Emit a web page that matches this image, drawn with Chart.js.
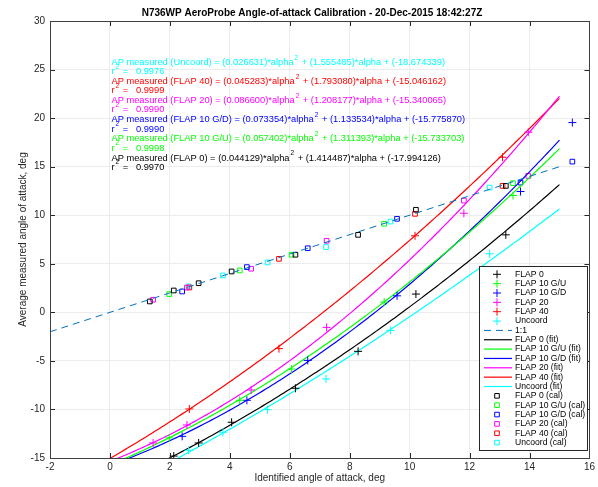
<!DOCTYPE html>
<html>
<head>
<meta charset="utf-8">
<script src="https://cdn.jsdelivr.net/npm/chart.js@4/dist/chart.umd.min.js"></script>
<style>
body { margin: 0; background: #fff; }
#marco { width: 598px; height: 487px; }
</style>
</head>
<body>
<div id="marco"><canvas id="graficaCal"></canvas></div>
<script>
// Configuraciones de flaps
const configuraciones = ['FLAP 0', 'FLAP 10 G/U', 'FLAP 10 G/D', 'FLAP 20', 'FLAP 40', 'Uncoord'];
const colores = ['#000000', '#00ff00', '#0000ff', '#ff00ff', '#ff0000', '#00ffff'];

// Alfa identificado, alfa medido por la sonda y alfa calibrado (deg)
const alfaF0 = [1.33, 2.13, 2.96, 4.06, 6.19, 8.28, 10.21, 13.21];
const medidoF0 = [-16.0, -14.8, -13.45, -11.32, -7.82, -4.02, 1.88, 7.98];
const calF0 = [1.12, 2.25, 3.0, 4.21, 5.93, 7.98, 10.56, 13.02];

const alfaGU = [1.98, 4.33, 6.06, 9.15, 13.45];
const medidoGU = [-12.93, -9.06, -5.84, 1.06, 12.03];
const calGU = [1.88, 4.31, 5.93, 9.12, 13.3];

const alfaGD = [2.41, 4.57, 6.6, 9.58, 13.7, 15.43];
const medidoGD = [-12.77, -9.06, -4.95, 1.7, 12.44, 19.54];
const calGD = [2.15, 4.66, 6.6, 9.63, 13.36, 15.52];

const alfaF20 = [1.44, 2.57, 4.71, 7.23, 11.81, 13.96];
const medidoF20 = [-13.45, -11.6, -8.0, -1.55, 10.2, 18.55];
const calF20 = [1.3, 2.55, 4.49, 7.37, 11.51, 14.05];

const alfaF40 = [2.65, 5.64, 10.18, 13.10];
const medidoF40 = [-9.95, -3.74, 7.88, 15.97];
const calF40 = [2.56, 5.51, 10.14, 13.02];

const alfaUnc = [2.62, 3.77, 5.26, 7.21, 9.36, 12.67];
const medidoUnc = [-14.2, -12.35, -10.02, -6.86, -1.86, 6.03];
const calUnc = [2.67, 3.8, 5.14, 6.72, 9.35, 12.85];

// Coeficientes del ajuste cuadratico y r^2
const coefA = [0.044129, 0.057402, 0.073354, 0.086600, 0.045283, 0.026631];
const coefB = [1.414487, 1.311393, 1.133534, 1.208177, 1.793080, 1.555485];
const coefC = [-17.994126, -15.733703, -15.775870, -15.340065, -15.046162, -18.674339];
const r2 = ['0.9970', '0.9998', '0.9990', '0.9990', '0.9999', '0.9976'];

// Rango del ajuste y de la linea 1:1
const rangoAjuste = [0, 15];
const rangoUno = [-2, 15];

// Ticks de los ejes
const ticksX = [-2, 0, 2, 4, 6, 8, 10, 12, 14, 16];
const ticksY = [-15, -10, -5, 0, 5, 10, 15, 20, 25, 30];

const alfas = [alfaF0, alfaGU, alfaGD, alfaF20, alfaF40, alfaUnc];
const medidos = [medidoF0, medidoGU, medidoGD, medidoF20, medidoF40, medidoUnc];
const calibrados = [calF0, calGU, calGD, calF20, calF40, calUnc];

const FUENTE = '"Liberation Sans", Arial, sans-serif';

function puntos(xs, ys) {
    return xs.map((x, i) => ({ x: x, y: ys[i] }));
}

// Curva del ajuste evaluada con los coeficientes
function curvaAjuste(k) {
    const datos = [];
    for (let x = rangoAjuste[0]; x <= rangoAjuste[1] + 1e-9; x += 0.1) {
        datos.push({ x: x, y: coefA[k] * x * x + coefB[k] * x + coefC[k] });
    }
    return datos;
}

const datasets = [];
configuraciones.forEach((nombre, k) => {
    datasets.push({
        label: nombre,
        data: puntos(alfas[k], medidos[k]),
        pointStyle: 'cross',
        pointRadius: 4,
        borderColor: colores[k],
        borderWidth: 1,
        showLine: false,
        tipo: 'cruz'
    });
});
datasets.push({
    label: '1:1',
    data: puntos(rangoUno, rangoUno),
    showLine: true,
    pointRadius: 0,
    borderColor: '#0072bd',
    borderWidth: 1,
    borderDash: [7, 5],
    tipo: 'linea'
});
configuraciones.forEach((nombre, k) => {
    datasets.push({
        label: nombre + ' (fit)',
        data: curvaAjuste(k),
        showLine: true,
        pointRadius: 0,
        borderColor: colores[k],
        borderWidth: 1.2,
        tipo: 'linea'
    });
});
configuraciones.forEach((nombre, k) => {
    datasets.push({
        label: nombre + ' (cal)',
        data: puntos(alfas[k], calibrados[k]),
        pointStyle: 'rect',
        pointRadius: 3.3,
        borderColor: colores[k],
        backgroundColor: 'rgba(0,0,0,0)',
        borderWidth: 1,
        showLine: false,
        tipo: 'cuadro'
    });
});

function dibujarMarca(ctx, tipo, ds, x, y) {
    ctx.save();
    ctx.strokeStyle = ds.borderColor;
    ctx.lineWidth = ds.borderWidth;
    ctx.beginPath();
    if (tipo === 'cruz') {
        ctx.moveTo(x - 4, y); ctx.lineTo(x + 4, y);
        ctx.moveTo(x, y - 4); ctx.lineTo(x, y + 4);
    } else if (tipo === 'cuadro') {
        ctx.rect(x - 2.3, y - 2.3, 4.6, 4.6);
    } else {
        ctx.setLineDash(ds.borderDash || []);
        ctx.moveTo(x - 13, y); ctx.lineTo(x + 15, y);
    }
    ctx.stroke();
    ctx.restore();
}

// Texto con un exponente "2" pequeño; devuelve la x final
function textoExp(ctx, partes, x, y, tam) {
    partes.forEach((p, i) => {
        ctx.font = tam + 'px ' + FUENTE;
        ctx.fillText(p, x, y);
        x += ctx.measureText(p).width;
        if (i < partes.length - 1) {
            ctx.font = (tam * 0.7) + 'px ' + FUENTE;
            ctx.fillText('2', x + 1, y - 4.5);
            x += ctx.measureText('2').width + 2;
        }
    });
    return x;
}

const extras = {
    id: 'extras',
    afterDatasetsDraw(chart) {
        const ctx = chart.ctx;
        const sx = chart.scales.x;
        const area = chart.chartArea;
        // Ecuaciones de los ajustes
        const orden = [5, 4, 3, 2, 1, 0];
        ctx.save();
        ctx.textBaseline = 'middle';
        ctx.textAlign = 'left';
        const x0 = sx.getPixelForValue(0.05);
        orden.forEach((k, i) => {
            const yEc = area.top + 41.5 + i * 19.1;
            ctx.fillStyle = colores[k];
            textoExp(ctx, [
                'AP measured (' + configuraciones[k] + ') = (' + coefA[k].toFixed(6) + ')*alpha',
                ' + (' + coefB[k].toFixed(6) + ')*alpha + (' + coefC[k].toFixed(6) + ')'
            ], x0, yEc, 9.3);
            textoExp(ctx, ['r', ' =   ' + r2[k]], x0, yEc + 9.2, 9.3);
        });
        ctx.restore();
    },
    afterDraw(chart) {
        const ctx = chart.ctx;
        const a = chart.chartArea;
        const sx = chart.scales.x;
        const sy = chart.scales.y;
        ctx.save();
        // Marcas hacia dentro en los cuatro lados
        ctx.strokeStyle = '#262626';
        ctx.lineWidth = 1;
        ctx.beginPath();
        ticksX.forEach(v => {
            const px = Math.round(sx.getPixelForValue(v)) + 0.5;
            ctx.moveTo(px, a.bottom); ctx.lineTo(px, a.bottom - 5);
            ctx.moveTo(px, a.top); ctx.lineTo(px, a.top + 5);
        });
        ticksY.forEach(v => {
            const py = Math.round(sy.getPixelForValue(v)) + 0.5;
            ctx.moveTo(a.left, py); ctx.lineTo(a.left + 5, py);
            ctx.moveTo(a.right, py); ctx.lineTo(a.right - 5, py);
        });
        ctx.stroke();
        ctx.strokeStyle = '#404040';
        ctx.strokeRect(Math.round(a.left) + 0.5, Math.round(a.top) + 0.5,
            Math.round(a.right - a.left), Math.round(a.bottom - a.top));

        // Titulo
        ctx.fillStyle = '#000';
        ctx.font = 'bold 10px ' + FUENTE;
        ctx.textAlign = 'center';
        ctx.textBaseline = 'middle';
        ctx.fillText('N736WP AeroProbe Angle-of-attack Calibration - 20-Dec-2015 18:42:27Z', 312, 13);

        // Leyenda
        const izq = 479, der = 587, arriba = 266, abajo = 450;
        ctx.fillStyle = '#fff';
        ctx.fillRect(izq, arriba, der - izq, abajo - arriba);
        ctx.strokeStyle = '#262626';
        ctx.strokeRect(izq + 0.5, arriba + 0.5, der - izq, abajo - arriba);
        ctx.textAlign = 'left';
        ctx.font = '8.6px ' + FUENTE;
        chart.data.datasets.forEach((ds, i) => {
            const y = 274.3 + i * 9.35;
            dibujarMarca(ctx, ds.tipo, ds, 497, y);
            ctx.fillStyle = '#000';
            ctx.fillText(ds.label, 515, y);
        });
        ctx.restore();
    }
};

const ejeComun = {
    type: 'linear',
    grid: { color: '#ececec', drawTicks: false },
    border: { display: false },
    ticks: { color: '#262626', font: { family: FUENTE, size: 10 } },
    title: { display: true, color: '#262626', font: { family: FUENTE, size: 10 } }
};

new Chart(document.getElementById('graficaCal').getContext('2d'), {
    type: 'scatter',
    data: { datasets: datasets },
    plugins: [extras],
    options: {
        responsive: true,
        maintainAspectRatio: false,
        animation: false,
        events: [],
        layout: { padding: { left: 0, right: 4, top: 21, bottom: 0 } },
        plugins: { legend: { display: false }, tooltip: { enabled: false } },
        scales: {
            x: {
                ...ejeComun,
                min: -2, max: 16,
                afterBuildTicks: s => { s.ticks = ticksX.map(v => ({ value: v })); },
                ticks: { ...ejeComun.ticks, padding: 3, maxRotation: 0 },
                title: { ...ejeComun.title, text: 'Identified angle of attack, deg', padding: { top: 0, bottom: 3 } },
                afterFit: s => { s.height = 29; }
            },
            y: {
                ...ejeComun,
                min: -15, max: 30,
                afterBuildTicks: s => { s.ticks = ticksY.map(v => ({ value: v })); },
                ticks: { ...ejeComun.ticks, padding: 5 },
                title: { ...ejeComun.title, text: 'Average measured angle of attack, deg', padding: { top: 17, bottom: 0 } },
                afterFit: s => { s.width = 50; }
            }
        }
    }
});
</script>
</body>
</html>
